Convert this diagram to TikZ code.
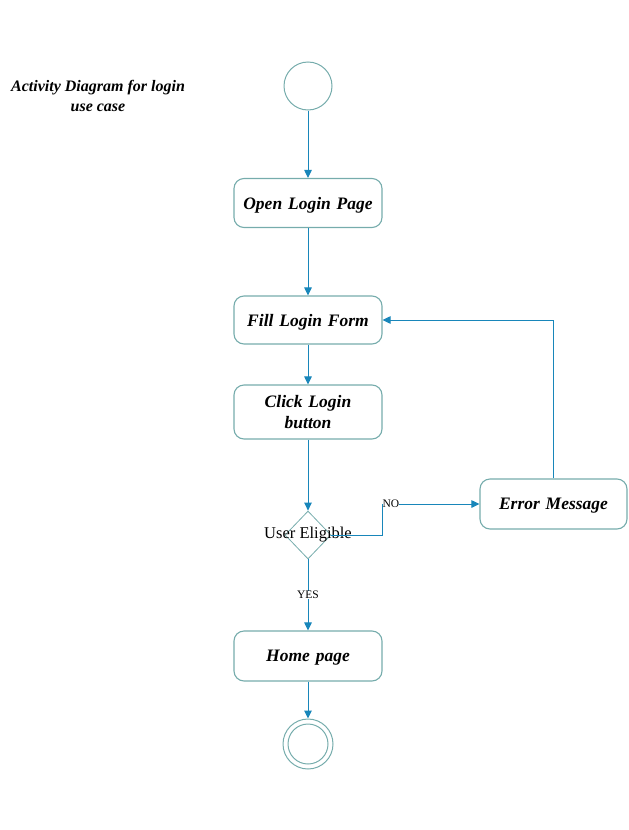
\documentclass[tikz,border=0pt]{standalone}
\usepackage{fontspec}
\setmainfont{Liberation Serif}
\usetikzlibrary{shapes.geometric,arrows.meta,calc}
\definecolor{boxline}{RGB}{118,172,172}
\definecolor{flow}{RGB}{24,134,186}
\tikzset{>={Triangle[length=8pt,width=7.5pt]}}
\newcommand{\boxw}{148pt}
\newcommand{\boxh}{49pt}

\begin{document}
\begin{tikzpicture}[x=1pt,y=-1pt]
  \tikzstyle{activity}=[draw=boxline, line width=1.1pt, rounded corners=10pt, minimum width=\boxw, minimum height=\boxh, text width=130pt, text depth=0pt, align=center, font=\fontsize{17.5}{21}\selectfont\bfseries\itshape]
  \tikzstyle{flowarrow}=[draw=flow, line width=1pt, ->]
  \tikzstyle{guard}=[fill=white, inner sep=0.5pt, font=\fontsize{11.5}{13}\selectfont]
  \tikzstyle{decision}=[diamond, draw=boxline, line width=0.8pt, minimum width=46pt, minimum height=48pt, inner sep=0pt]
  \useasboundingbox (0,0) rectangle (629,830);
  \node[align=center, font=\fontsize{16}{20}\selectfont\bfseries\itshape] (title) at (98,96) {Activity Diagram for login\\ use case};
  \node[circle, draw=boxline, line width=1pt, minimum size=48pt, inner sep=0pt] (start) at (308,86) {};
  \node[activity] (open) at (308,203) {Open Login Page};
  \node[activity, minimum height=48pt] (fill) at (308,320) {Fill Login Form};
  \node[activity, minimum height=54pt, text depth=21pt] (click) at (308,412) {Click Login\\ button};
  \node[decision, label={[font=\fontsize{16.5}{20}\selectfont]center:User Eligible}] (elig) at (308,535) {};
  \node[activity, minimum width=147pt, minimum height=50pt] (error) at (553.5,504) {Error Message};
  \node[activity, minimum height=50pt] (home) at (308,656) {Home page};
  \node[circle, draw=boxline, line width=1pt, minimum size=50pt, inner sep=0pt] (end) at (308,744) {};
  \draw[boxline, line width=1pt] (end.center) circle (20pt);
  \draw[flowarrow] (start) -- (open);
  \draw[flowarrow] (open) -- (fill);
  \draw[flowarrow] (fill) -- (click);
  \draw[flowarrow] (click) -- (elig);
  \draw[flowarrow] (elig) -- node[guard]{YES} (home);
  \draw[flowarrow] (home) -- (end);
  \draw[flowarrow] (elig.east) -- (382,535) -- (382,504) node[guard, anchor=west, inner sep=0pt]{NO} -- (error.west);
  \draw[flowarrow] (error.north) |- (fill.east);
\end{tikzpicture}
\end{document}
